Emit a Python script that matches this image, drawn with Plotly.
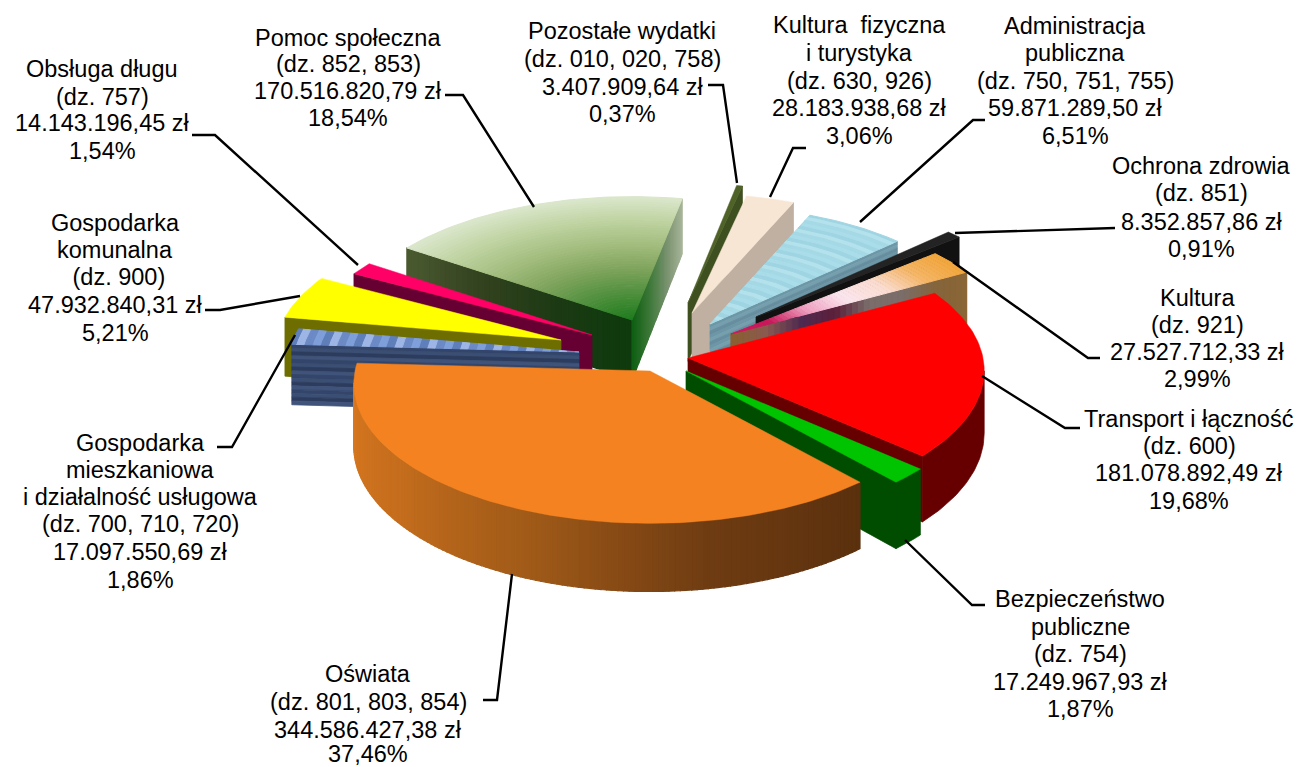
import math
import plotly.graph_objects as go

# ---------- data ----------
names = ["Pozostałe wydatki", "Kultura fizyczna", "Administracja publiczna", "Ochrona zdrowia",
         "Kultura", "Transport i łączność", "Bezpieczeństwo publiczne", "Oświata",
         "Gospodarka mieszkaniowa", "Gospodarka komunalna", "Obsługa długu", "Pomoc społeczna"]
percents = [0.37, 3.06, 6.51, 0.91, 2.99, 19.68, 1.87, 37.46, 1.86, 5.21, 1.54, 18.54]
label_lines = [
    ["Pozostałe wydatki", "(dz. 010, 020, 758)", "3.407.909,64 zł", "0,37%"],
    ["Kultura  fizyczna", "i turystyka", "(dz. 630, 926)", "28.183.938,68 zł", "3,06%"],
    ["Administracja", "publiczna", "(dz. 750, 751, 755)", "59.871.289,50 zł", "6,51%"],
    ["Ochrona zdrowia", "(dz. 851)", "8.352.857,86 zł", "0,91%"],
    ["Kultura", "(dz. 921)", "27.527.712,33 zł", "2,99%"],
    ["Transport i łączność", "(dz. 600)", "181.078.892,49 zł", "19,68%"],
    ["Bezpieczeństwo", "publiczne", "(dz. 754)", "17.249.967,93 zł", "1,87%"],
    ["Oświata", "(dz. 801, 803, 854)", "344.586.427,38 zł", "37,46%"],
    ["Gospodarka", "mieszkaniowa", "i działalność usługowa", "(dz. 700, 710, 720)", "17.097.550,69 zł", "1,86%"],
    ["Gospodarka", "komunalna", " (dz. 900)", "47.932.840,31 zł", "5,21%"],
    ["Obsługa długu", "(dz. 757)", "14.143.196,45 zł", "1,54%"],
    ["Pomoc społeczna", "(dz. 852, 853)", "170.516.820,79 zł", "18,54%"],
]

# ---------- layout of the drawing ----------
START = 11.0      # degrees clockwise from north
R = 295.0
TILT = 0.47
PERSP = 0.09
WALL = 62.0
apex = [(688, 303), (692, 313), (710, 324), (756, 317), (731, 334), (688, 358),
        (686, 371), (650, 371), (579, 352), (561, 340), (592, 335), (632, 320)]
base = [0.94, 0.94, 0.925, 0.95, 0.955, 1.0, 1.0, 1.0, 0.98, 0.965, 0.96, 0.97]
wall_h = [WALL] * 12
draw_order = [11, 10, 9, 8, 0, 1, 2, 3, 4, 5, 6, 7]

top_stops = [
    ["#4f6228"], ["#f8e6d5"], ["#a9dde9"], ["#232323"],
    ["#d01a5e", "#c8175a", "#f0a0c0", "#fbe6ee", "#fadcd0", "#f4b565", "#f2a63c"],
    ["#ff0000"], ["#00c400"], ["#f58220"], ["#7f9fdb"], ["#ffff00"], ["#ff0066"],
    ["#1c7a1c", "#4d8f3c", "#7fa45c", "#a3bd7e", "#bfd3a2", "#dbe7cc"],
]
start_wall = [
    ["#3f5020"], ["#bfb0a2"], ["#6f96a5"], ["#111111"], ["#8a6535"], ["#660000"], ["#004d00"],
    ["#5a300e"], ["#35486b"], ["#6e6e00"], ["#660033"], ["#0d3a0d", "#1c3a14", "#33421f", "#4a5a30"],
]
end_wall = [
    ["#3f5020"], ["#bfb0a2"], ["#6f96a5"], ["#111111"],
    ["#8a6535", "#85653c", "#7a6d6a", "#7a6d6a", "#5c1f3a", "#4f2a50", "#8a5a50", "#8a6030"],
    ["#660000"], ["#004d00"], ["#5a300e"], ["#35486b"], ["#6e6e00"], ["#660033"],
    ["#a9b79a", "#7a9270", "#3f7a3a", "#0f5f14"],
]
arc_wall = [
    ["#3f5020"], ["#bfb0a2"], ["#6f96a5"], ["#111111"], ["#8a6535"], ["#660000"], ["#004d00"],
    ["#5a300e", "#6f3c12", "#a05a18", "#c46d1d", "#d8781f"],
    ["#35486b"], ["#6e6e00"], ["#660033"], ["#3f5020"],
]
top_texture = {2: ["#a9dde9", "#9fd5e3", "#b4e2ec", "#a4d9e5"],
               8: ["#7f9fdb", "#5f7fbb", "#9db6e6", "#6b8ac6"]}
wall_texture = {2: ["#6d96a6", "#769fae", "#668e9e"],
                8: ["#33456a", "#3b4e73", "#2c3c5e", "#40537a"]}

leaders = [
    [(708, 85), (723, 85), (737, 183)],
    [(806, 148), (793, 148), (770, 197)],
    [(985, 120), (973, 120), (860, 222)],
    [(1115, 228), (955, 233)],
    [(1100, 358), (1088, 358), (953, 262)],
    [(1080, 428), (1065, 428), (982, 376)],
    [(985, 605), (972, 605), (905, 540)],
    [(483, 700), (497, 700), (512, 574)],
    [(217, 447), (232, 447), (295, 335)],
    [(205, 310), (220, 310), (300, 296)],
    [(192, 135), (215, 135), (358, 265)],
    [(445, 95), (463, 95), (534, 207)],
]
label_cx = [622, 859, 1075, 1201, 1197, 1189, 1080, 368, 140, 115, 102, 348]
label_y = [
    [31, 59, 87, 114], [25, 53, 81, 108, 136], [26, 53, 81, 108, 136], [166, 193, 222, 249],
    [298, 325, 352, 379], [419, 446, 473, 501], [599, 627, 654, 682, 709], [674, 702, 730, 754],
    [443, 470, 497, 524, 552, 580], [223, 250, 277, 305, 333], [69, 97, 123, 151], [38, 64, 91, 118],
]


# ---------- helpers ----------
def hex_rgb(c):
    return tuple(int(c[i:i + 2], 16) for i in (1, 3, 5))


def ramp(stops, t):
    if len(stops) == 1:
        return stops[0]
    v = max(0.0, min(1.0, t)) * (len(stops) - 1)
    i = min(int(v), len(stops) - 2)
    f = v - i
    a, b = hex_rgb(stops[i]), hex_rgb(stops[i + 1])
    return "rgb(%d,%d,%d)" % tuple(round(a[k] + (b[k] - a[k]) * f) for k in range(3))


def proj(i, t, deg):
    th = math.radians(deg)
    s = base[i] / (1 + PERSP * t * math.cos(th))
    return (apex[i][0] + s * R * t * math.sin(th),
            apex[i][1] - TILT * s * R * t * math.cos(th),
            s)


fig = go.Figure()


def poly(pts, color, lw=1.2):
    xs = [p[0] for p in pts] + [pts[0][0]]
    ys = [p[1] for p in pts] + [pts[0][1]]
    fig.add_trace(go.Scatter(x=xs, y=ys, mode="lines", fill="toself", fillcolor=color,
                             line=dict(color=color, width=lw), hoverinfo="skip", showlegend=False))


def wall_strip(i, edge, stops):
    n = len(edge) - 1
    tex = wall_texture.get(i)
    pts = [proj(i, t, d) for t, d in edge]
    h = wall_h[i]
    if tex:
        bands = 16
        for m in range(bands):
            f0, f1 = m / bands, (m + 1) / bands
            poly([(p[0], p[1] + h * p[2] * f0) for p in pts] +
                 [(p[0], p[1] + h * p[2] * f1) for p in pts[::-1]], tex[m % len(tex)], 0.8)
        return
    if len(stops) == 1:
        poly([(p[0], p[1]) for p in pts] + [(p[0], p[1] + h * p[2]) for p in pts[::-1]], stops[0], 0.7)
        return
    for k in range(n):
        a, b = pts[k], pts[k + 1]
        poly([(a[0], a[1]), (b[0], b[1]), (b[0], b[1] + h * b[2]), (a[0], a[1] + h * a[2])],
             ramp(stops, (k + 0.5) / n))


angles = []
acc = START
for p in percents:
    angles.append((acc, acc + p * 3.6))
    acc += p * 3.6

for i in draw_order:
    a0, a1 = angles[i]
    steps = max(2, int((a1 - a0) / 1.0))
    arc = [a0 + (a1 - a0) * j / steps for j in range(steps + 1)]
    s_edge = [(j / 40, a0) for j in range(41)]
    e_edge = [(1 - j / 40, a1) for j in range(41)]
    if proj(i, 1, a0)[0] < proj(i, 0, a0)[0]:
        wall_strip(i, s_edge, start_wall[i])
    run = []
    for j in range(len(arc)):
        if j and proj(i, 1, arc[j])[0] >= proj(i, 1, arc[j - 1])[0]:
            if len(run) > 1:
                wall_strip(i, run, arc_wall[i])
            run = []
        run.append((1, arc[j]))
    if len(run) > 1:
        wall_strip(i, run, arc_wall[i])
    if proj(i, 0, a1)[0] < proj(i, 1, a1)[0]:
        wall_strip(i, e_edge, end_wall[i])
    tex = top_texture.get(i)
    rings = 70 if tex else (1 if len(top_stops[i]) == 1 else 50)
    for r in range(rings):
        t0, t1 = r / rings, (r + 1) / rings
        outer = [proj(i, t1, d)[:2] for d in arc]
        inner = [proj(i, t0, d)[:2] for d in arc]
        col = tex[(r * 3 + r // 2) % len(tex)] if tex else ramp(top_stops[i], (t0 + t1) / 2)
        poly(outer + inner[::-1], col, 1.0 if rings > 1 else 0.5)

for seg in leaders:
    fig.add_trace(go.Scatter(x=[p[0] for p in seg], y=[p[1] for p in seg], mode="lines",
                             line=dict(color="#000000", width=2.4), hoverinfo="skip", showlegend=False))

for i, lines in enumerate(label_lines):
    for txt, y in zip(lines, label_y[i]):
        fig.add_annotation(x=label_cx[i], y=y, text=txt, showarrow=False, xanchor="center", yanchor="middle",
                           font=dict(family="Liberation Sans, Arial, sans-serif", size=23.5, color="#000000"))

fig.update_layout(width=1299, height=767, margin=dict(l=0, r=0, t=0, b=0), paper_bgcolor="white",
                  plot_bgcolor="white", showlegend=False,
                  xaxis=dict(range=[0, 1299], visible=False, fixedrange=True),
                  yaxis=dict(range=[767, 0], visible=False, fixedrange=True))
fig.write_html("out.html", config={"displayModeBar": False},
               post_script="document.body.style.margin='0';document.body.style.overflow='hidden';")
